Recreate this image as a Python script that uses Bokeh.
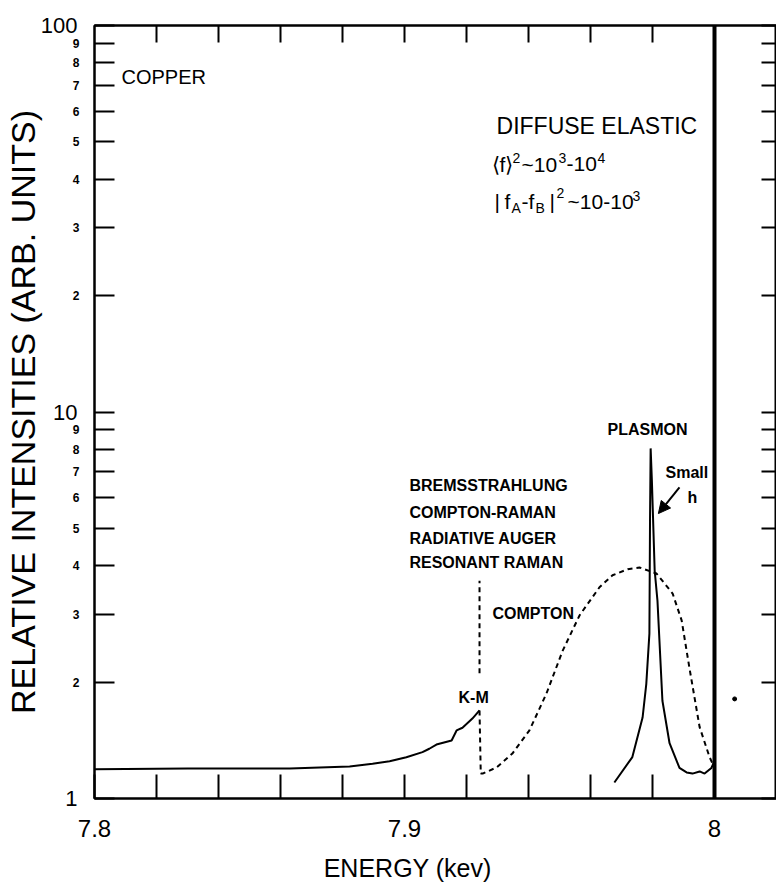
from bokeh.plotting import figure
from bokeh.models import (Range1d, LogAxis, LinearAxis, FixedTicker, CustomJSTickFormatter,
                          Arrow, NormalHead)
from bokeh.core.properties import value
from bokeh.embed import file_html
from bokeh.resources import INLINE

# ---------------- data ----------------
base_E = [7.800, 7.830, 7.863, 7.8823, 7.8897, 7.8952, 7.9006, 7.9058, 7.9080, 7.9103,
          7.9152, 7.9168, 7.9187, 7.9219, 7.9242]
base_I = [1.19, 1.196, 1.196, 1.21, 1.23, 1.249, 1.279, 1.318, 1.345, 1.379,
          1.413, 1.50, 1.524, 1.61, 1.69]

comp_E = [7.9242, 7.9246, 7.9252, 7.9297, 7.9348, 7.9403, 7.9458, 7.9510, 7.9565, 7.9629,
          7.9671, 7.9720, 7.9758, 7.9813, 7.9865, 7.9894, 7.9919, 7.9952, 7.9984, 7.9994]
comp_I = [1.69, 1.16, 1.16, 1.203, 1.307, 1.50, 1.87, 2.41, 2.98, 3.52,
          3.78, 3.92, 3.96, 3.82, 3.39, 2.89, 2.18, 1.53, 1.28, 1.23]

km_E = [7.9242, 7.9242]
km_I = [2.11, 3.66]

plas_E = [7.9677, 7.9735, 7.9768, 7.9780, 7.9790, 7.9792, 7.9794, 7.9798, 7.9807, 7.9816,
          7.9832, 7.9855, 7.9887, 7.9910, 7.9929, 7.9952, 7.9968, 7.9990, 8.0000]
plas_I = [1.10, 1.28, 1.62, 1.98, 2.67, 5.24, 8.05, 6.65, 3.89, 3.25,
          1.79, 1.39, 1.20, 1.168, 1.16, 1.175, 1.16, 1.20, 1.25]

elas_E = [8.0, 8.0]
elas_I = [1.0, 100.0]

dot_E = [8.0065]
dot_I = [1.81]

x_major = [7.8, 7.9, 8.0]
x_minor = [7.82, 7.84, 7.86, 7.88, 7.92, 7.94, 7.96, 7.98]
y_major = [1, 10, 100]
y_minor = [2, 3, 4, 5, 6, 7, 8, 9, 20, 30, 40, 50, 60, 70, 80, 90]

FONT = "Liberation Sans"

p = figure(frame_width=682, frame_height=773,
           x_range=Range1d(7.8, 8.02), y_range=Range1d(1, 100),
           y_axis_type="log", output_backend="svg", toolbar_location=None,
           min_border_left=87, min_border_top=25, min_border_right=0, min_border_bottom=10,
           background_fill_color="white", border_fill_color="white")
p.grid.visible = False
p.outline_line_color = "black"
p.outline_line_width = 2

# bottom axis
xa = p.xaxis[0]
xa.ticker = FixedTicker(ticks=x_major, minor_ticks=x_minor)
xa.formatter = CustomJSTickFormatter(code="return tick.toFixed(1).replace(/\\.0$/, '');")
xa.major_tick_in = 24; xa.major_tick_out = 0
xa.minor_tick_in = 24; xa.minor_tick_out = 0
xa.major_tick_line_width = 2; xa.minor_tick_line_width = 2
xa.axis_line_width = 2
xa.major_label_text_font = FONT
xa.major_label_text_font_size = "24px"
xa.major_label_text_color = "black"
xa.major_label_standoff = 21
xa.axis_label = "ENERGY  (kev)" + "\u00a0" * 7
xa.axis_label_text_font = FONT
xa.axis_label_text_font_size = "25px"
xa.axis_label_text_font_style = "normal"
xa.axis_label_text_color = "black"
xa.axis_label_standoff = 14

# inner left axis: ticks + small digits
ya = p.yaxis[0]
ya.ticker = FixedTicker(ticks=y_major + y_minor)
ya.formatter = CustomJSTickFormatter(code="""
const v = Math.round(tick);
if (v == 1 || v == 10 || v == 100) { return ''; }
return String(v >= 10 ? v / 10 : v);
""")
ya.major_tick_in = 20; ya.major_tick_out = 0
ya.minor_tick_in = 0; ya.minor_tick_out = 0
ya.major_tick_line_width = 2
ya.axis_line_width = 2
ya.major_label_text_font = FONT
ya.major_label_text_font_size = "12px"
ya.major_label_text_font_style = "bold"
ya.major_label_text_color = "black"
ya.major_label_standoff = 15

# outer left axis: big decade labels + title
yo = LogAxis(ticker=FixedTicker(ticks=y_major),
             formatter=CustomJSTickFormatter(code="return String(Math.round(tick));"),
             axis_line_color=None, major_tick_line_color=None, minor_tick_line_color=None,
             major_tick_in=0, major_tick_out=0, minor_tick_in=0, minor_tick_out=0,
             major_label_standoff=-8,
             major_label_text_font=FONT, major_label_text_font_size="22px",
             major_label_text_color="black",
             axis_label="RELATIVE INTENSITIES (ARB. UNITS)",
             axis_label_text_font=FONT, axis_label_text_font_size="34px",
             axis_label_text_color="black",
             axis_label_text_font_style="normal", axis_label_standoff=-4)
p.add_layout(yo, "left")

# right axis (ticks only)
ra = LogAxis(ticker=FixedTicker(ticks=y_major, minor_ticks=y_minor),
             formatter=CustomJSTickFormatter(code="return '';"),
             major_tick_in=15, major_tick_out=0, minor_tick_in=15, minor_tick_out=0,
             major_tick_line_width=2, minor_tick_line_width=2, axis_line_width=2,
             major_label_standoff=0)
p.add_layout(ra, "right")

# top axis (ticks only)
ta = LinearAxis(ticker=FixedTicker(ticks=x_minor + [7.9, 8.0]),
                formatter=CustomJSTickFormatter(code="return '';"),
                major_tick_in=17, major_tick_out=0, minor_tick_in=0, minor_tick_out=0,
                major_tick_line_width=2, axis_line_width=2, major_label_standoff=0)
p.add_layout(ta, "above")

# curves
p.line(base_E, base_I, line_color="black", line_width=2)
p.line(comp_E, comp_I, line_color="black", line_width=2, line_dash="5 4")
p.line(km_E, km_I, line_color="black", line_width=2, line_dash="5 4")
p.line(plas_E, plas_I, line_color="black", line_width=2)
p.line(elas_E, elas_I, line_color="black", line_width=4)
p.scatter(dot_E, dot_I, size=4, color="black")

p.add_layout(Arrow(end=NormalHead(size=12, fill_color="black", line_color="black"),
                   x_start=7.9887, y_start=6.38, x_end=7.9819, y_end=5.46,
                   line_color="black", line_width=2))

def txt(x, y, s, size, style="normal", dx=0, dy=0, align="left"):
    p.text(x=[x], y=[y], text=[s], text_font=value(FONT), text_font_size=size,
           text_font_style=style, text_align=align, text_baseline="middle",
           x_offset=dx, y_offset=dy, text_color="black")

txt(7.8087, 73.4, "COPPER", "20px")
txt(7.9297, 54.8, "DIFFUSE ELASTIC", "23px")
# <f>^2 ~ 10^3 - 10^4
L2x, L2y = 7.9281, 43.7
txt(L2x, L2y, "\u27e8f\u27e9", "21px", dx=0)
txt(L2x, L2y, "2", "14px", dx=21, dy=-6)
txt(L2x, L2y, "~10", "21px", dx=30)
txt(L2x, L2y, "3", "14px", dx=67, dy=-6)
txt(L2x, L2y, "-10", "21px", dx=75)
txt(L2x, L2y, "4", "14px", dx=106, dy=-6)
# |f_A - f_B|^2 ~ 10-10^3
L3x, L3y = 7.9281, 35.0
txt(L3x, L3y, "|", "21px", dx=3)
txt(L3x, L3y, "f", "21px", dx=13)
txt(L3x, L3y, "A", "14px", dx=20, dy=6)
txt(L3x, L3y, "-f", "21px", dx=30)
txt(L3x, L3y, "B", "14px", dx=44, dy=6)
txt(L3x, L3y, "|", "21px", dx=58)
txt(L3x, L3y, "2", "14px", dx=65, dy=-9)
txt(L3x, L3y, "~10-10", "21px", dx=76)
txt(L3x, L3y, "3", "14px", dx=141, dy=-6)

txt(7.9655, 9.01, "PLASMON", "16px", "bold")
txt(7.9842, 6.98, "Small", "16px", "bold")
txt(7.9913, 6.01, "h", "16px", "bold")
txt(7.9016, 6.45, "BREMSSTRAHLUNG", "16px", "bold")
txt(7.9016, 5.50, "COMPTON-RAMAN", "16px", "bold")
txt(7.9016, 4.71, "RADIATIVE AUGER", "16px", "bold")
txt(7.9016, 4.08, "RESONANT RAMAN", "16px", "bold")
txt(7.9284, 3.01, "COMPTON", "16px", "bold")
txt(7.9223, 1.825, "K-M", "16px", "bold", align="center")

open("out.html", "w").write(file_html(p, INLINE))
